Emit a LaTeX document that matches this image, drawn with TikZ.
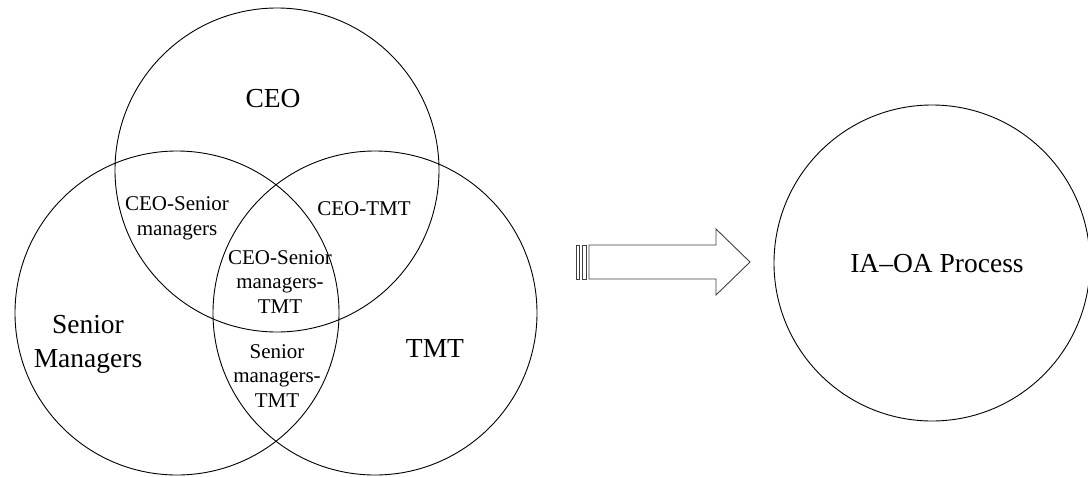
\documentclass[tikz,border=0pt]{standalone}
\usepackage{fontspec}
\setmainfont{Liberation Serif}
\usetikzlibrary{calc}

\begin{document}
\begin{tikzpicture}[x=1pt, y=-1pt, line width=0.9pt,
        set/.style={circle, draw, minimum size=324pt, inner sep=0pt},
        big/.style={font=\fontsize{27.5}{34}\selectfont, align=center, anchor=base, inner sep=0pt},
        small/.style={font=\fontsize{21}{24.5}\selectfont, align=center, anchor=base, inner sep=0pt}]
        \useasboundingbox (0,0) rectangle (1088,477);

        % Define the three sets
        \node[set] (ceo) at (277,170) {};
        \node[set] (senior) at (177,313) {};
        \node[set] (tmt) at (375,313) {};
        \node[set, minimum size=316pt] (process) at (932,263) {};

        % Set labels
        \node[big] (ceo_l) at (273,107) {CEO};
        \node[big] (senior_l) at (88,367) {Senior\\Managers};
        \node[big] (tmt_l) at (435,357) {TMT};
        \node[big] (process_l) at (937,272) {IA--OA Process};

        % Overlap labels
        \node[small] (ceo_senior) at (177,235) {CEO-Senior\\managers};
        \node[small] (ceo_tmt) at (364,215) {CEO-TMT};
        \node[small] (ceo_senior_tmt) at (280,313) {CEO-Senior\\managers-\\TMT};
        \node[small] (senior_tmt) at (277,407) {Senior\\managers-\\TMT};

        % Striped arrow
        \coordinate (tail) at (589,262);
        \coordinate (tip) at (750,262);
        \draw[black!75] ($(tail)+(0,-17)$) -- (716,245) -- (716,229) -- (tip)
            -- (716,295) -- (716,279) -- ($(tail)+(0,17)$) -- cycle;
        \draw[black!75] (582,245) rectangle (586,279);
        \draw[black!75] (576,245) rectangle (579,279);

    \end{tikzpicture}
\end{document}
